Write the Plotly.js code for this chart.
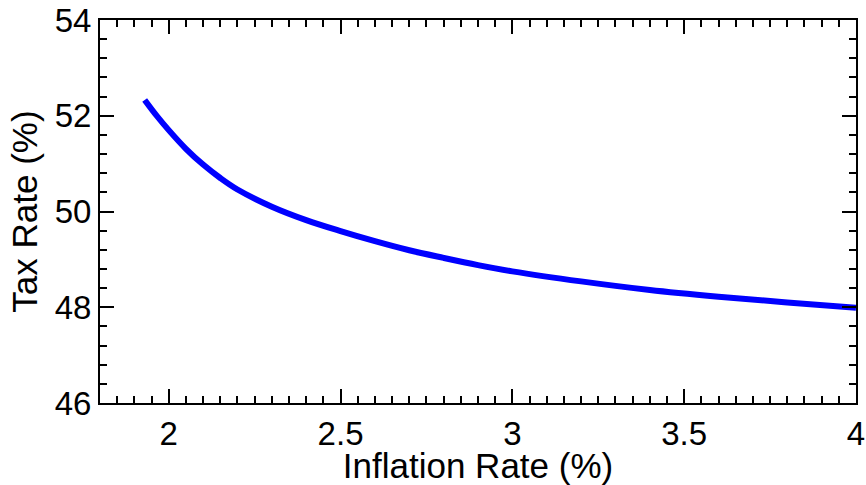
<!DOCTYPE html>
<html>
<head>
<meta charset="utf-8">
<script src="https://cdn.plot.ly/plotly-3.0.1.min.js"></script>
<style>html,body{margin:0;padding:0;background:#fff;}#chart{width:866px;height:485px;}</style>
</head>
<body>
<div id="chart"></div>
<script>
const inflationRate = [1.93, 1.965, 2.0, 2.05, 2.1, 2.15, 2.2, 2.3, 2.4, 2.5, 2.6, 2.7, 2.8, 2.9, 3.0, 3.2, 3.4, 3.6, 3.8, 4.0];
const taxRate = [52.33, 52.00, 51.70, 51.31, 50.98, 50.70, 50.46, 50.10, 49.82, 49.59, 49.38, 49.19, 49.03, 48.88, 48.75, 48.54, 48.36, 48.22, 48.10, 47.99];
const xTickVals = [2, 2.5, 3, 3.5, 4];
const xTickText = ["2", "2.5", "3", "3.5", "4"];
const yTickVals = [46, 48, 50, 52, 54];
const yTickText = ["46", "48", "50", "52", "54"];

const trace = {
  x: inflationRate, y: taxRate, type: 'scatter', mode: 'lines',
  line: {color: '#0000ff', width: 6, shape: 'spline', smoothing: 1}, hoverinfo: 'none'
};
const axisCommon = {
  showline: true, linecolor: '#000', linewidth: 2, mirror: 'allticks',
  ticks: 'inside', ticklen: 14, tickwidth: 2, tickcolor: '#000',
  showgrid: false, zeroline: false,
  tickfont: {family: 'Liberation Sans, Arial, sans-serif', size: 33, color: '#000'}
};
const layout = {
  width: 866, height: 485,
  margin: {l: 100, r: 10, t: 20, b: 82},
  paper_bgcolor: '#fff', plot_bgcolor: '#fff', showlegend: false,
  xaxis: Object.assign({}, axisCommon, {
    range: [1.8, 4], tickmode: 'array', tickvals: xTickVals, ticktext: xTickText,
    minor: {dtick: 0.05, tick0: 0, ticks: 'inside', ticklen: 7, tickwidth: 2, tickcolor: '#000', showgrid: false},
    title: {text: 'Inflation Rate (%)', standoff: 4, font: {family: 'Liberation Sans, Arial, sans-serif', size: 35, color: '#000'}}
  }),
  yaxis: Object.assign({}, axisCommon, {
    range: [46, 54], tickmode: 'array', tickvals: yTickVals, ticktext: yTickText,
    minor: {dtick: 0.4, tick0: 46, ticks: 'inside', ticklen: 7, tickwidth: 2, tickcolor: '#000', showgrid: false},
    title: {text: 'Tax Rate (%)', standoff: 6, font: {family: 'Liberation Sans, Arial, sans-serif', size: 35, color: '#000'}}
  })
};
Plotly.newPlot('chart', [trace], layout, {staticPlot: true, displayModeBar: false});
</script>
</body>
</html>
